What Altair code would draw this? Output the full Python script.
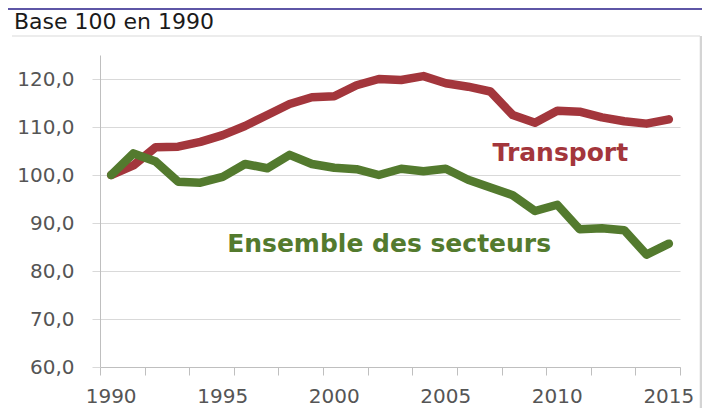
import altair as alt
import pandas as pd

years = list(range(1990, 2016))
transport = [100.0, 102.0, 105.8, 105.9, 106.9, 108.3, 110.2, 112.5, 114.8, 116.2,
             116.4, 118.7, 120.0, 119.8, 120.6, 119.1, 118.4, 117.4, 112.5, 110.9,
             113.4, 113.2, 112.0, 111.2, 110.7, 111.6]
ensemble = [100.0, 104.5, 102.8, 98.6, 98.4, 99.6, 102.3, 101.4, 104.2, 102.3,
            101.5, 101.2, 100.0, 101.3, 100.8, 101.3, 99.0, 97.4, 95.8, 92.5,
            93.8, 88.7, 88.9, 88.5, 83.4, 85.7]
series_names = ["Transport", "Ensemble des secteurs"]
series_colors = ["#a3363c", "#537a2e"]

label_texts = ["Transport", "Ensemble des secteurs"]
label_x = [2007.1, 1995.2]
label_y = [102.9, 84.0]

y_ticks = [60, 70, 80, 90, 100, 110, 120]
x_tick_edges = [y - 0.5 for y in range(1990, 2017)]
x_label_years = [1990, 1995, 2000, 2005, 2010, 2015]

df = pd.DataFrame({
    "year": years * 2,
    "value": transport + ensemble,
    "series": [series_names[0]] * len(years) + [series_names[1]] * len(years),
})
labels_df = pd.DataFrame({"text": label_texts, "x": label_x, "y": label_y,
                          "series": series_names})
xlab_df = pd.DataFrame({"year": x_label_years, "label": [str(v) for v in x_label_years]})

W, H = 580, 312
xscale = alt.Scale(domain=[1989.5, 2015.5], nice=False, zero=False)
yscale = alt.Scale(domain=[60, 125], nice=False, zero=False)
color = alt.Color("series:N", scale=alt.Scale(domain=series_names, range=series_colors), legend=None)

lines = alt.Chart(df).mark_line(strokeWidth=8.5, strokeJoin="round", strokeCap="round").encode(
    x=alt.X("year:Q", scale=xscale, axis=alt.Axis(
        values=x_tick_edges, grid=False, tickSize=8, tickColor="#bfbfbf", domainColor="#bfbfbf",
        labels=False, title=None)),
    y=alt.Y("value:Q", scale=yscale, axis=alt.Axis(
        values=y_ticks, grid=True, gridColor="#d9d9d9", tickSize=8, tickColor="#d9d9d9",
        domainColor="#bfbfbf",
        labelExpr="replace(format(datum.value, '.1f'), '.', ',')",
        labelPadding=18, labelFont="DejaVu Sans", labelFontSize=20, labelColor="#555555",
        title=None)),
    color=color,
    detail="series:N",
)

xlabels = alt.Chart(xlab_df).mark_text(
    font="DejaVu Sans", fontSize=20, color="#555555", align="center", baseline="alphabetic"
).encode(
    x=alt.X("year:Q", scale=xscale),
    y=alt.value(H + 36),
    text="label:N",
)

texts = alt.Chart(labels_df).mark_text(
    font="DejaVu Sans", fontSize=25, fontWeight="bold", align="left", baseline="alphabetic"
).encode(
    x=alt.X("x:Q", scale=xscale),
    y=alt.Y("y:Q", scale=yscale),
    text="text:N",
    color=color,
)

title_df = pd.DataFrame({"t": ["Base 100 en 1990"]})
title = alt.Chart(title_df).mark_text(
    font="DejaVu Sans", fontSize=22, color="#1a1a1a", align="left", baseline="alphabetic"
).encode(x=alt.value(-86), y=alt.value(-26), text="t:N")

banner = alt.Chart(title_df).mark_rect(color="#5e56a6").encode(
    x=alt.value(-92), x2=alt.value(610), y=alt.value(-47), y2=alt.value(-45))

sep = alt.Chart(title_df).mark_rule(color="#ececec", strokeWidth=2).encode(
    x=alt.value(-88), x2=alt.value(600), y=alt.value(-19))

border = alt.Chart(title_df).mark_rule(color="#d4d4d4", strokeWidth=2.5).encode(
    x=alt.value(601), y=alt.value(-19), y2=alt.value(353))

chart = alt.layer(banner, sep, border, title, lines, xlabels, texts).properties(
    width=W, height=H,
    autosize=alt.AutoSizeParams(type="none"),
    padding={"left": 92, "top": 47, "right": 22, "bottom": 41},
).configure_view(stroke=None)

chart.save("out.html", embed_options={"renderer": "svg", "actions": False})
